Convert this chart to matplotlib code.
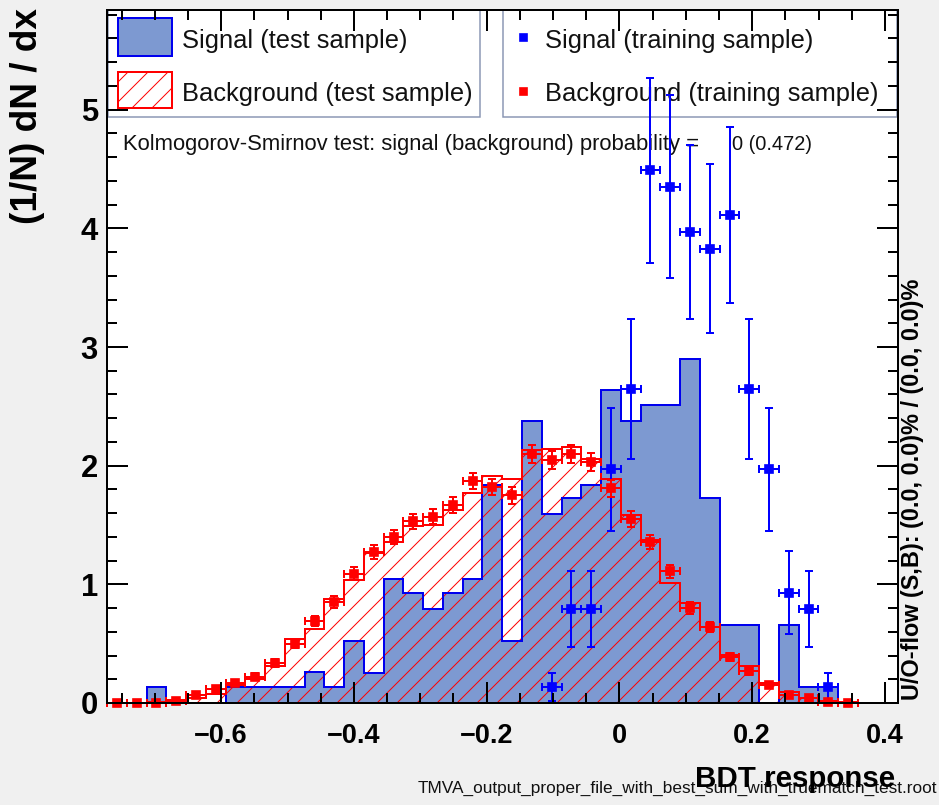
import numpy as np
import matplotlib
matplotlib.use("Agg")
import matplotlib.pyplot as plt
from matplotlib.patches import Rectangle
from matplotlib.lines import Line2D
from matplotlib.ticker import MultipleLocator

# canvas, in pixels
W, H, DPI = 939, 805, 120

# BDT response histograms: 40 bins
X_MIN, X_MAX, N_BINS = -0.772, 0.419, 40

sig_test = [0.0, 0.0, 0.135, 0.0, 0.0, 0.0, 0.135, 0.135, 0.135, 0.135,
            0.26, 0.135, 0.525, 0.25, 1.045, 0.93, 0.79, 0.93, 1.045, 1.84,
            0.52, 2.38, 1.59, 1.73, 1.84, 2.64, 2.38, 2.51, 2.51, 2.90,
            1.73, 0.66, 0.66, 0.0, 0.66, 0.137, 0.137, 0.0, 0.0, 0.0]

bkg_test = [0.0, 0.0, 0.01, 0.025, 0.045, 0.08, 0.15, 0.20, 0.31, 0.54,
            0.62, 0.88, 1.04, 1.26, 1.36, 1.49, 1.50, 1.63, 1.77, 1.91,
            1.89, 2.13, 2.14, 2.16, 2.06, 1.89, 1.585, 1.37, 1.01, 0.84,
            0.64, 0.405, 0.31, 0.17, 0.095, 0.04, 0.02, 0.01, 0.0, 0.0]

# training samples (points with errors); background drawn for bins 0..37
bkg_train = [0.0, 0.0, 0.0, 0.02, 0.07, 0.115, 0.17, 0.22, 0.335, 0.50,
             0.69, 0.85, 1.09, 1.27, 1.40, 1.53, 1.57, 1.67, 1.87, 1.82,
             1.75, 2.10, 2.05, 2.10, 2.03, 1.81, 1.55, 1.355, 1.11, 0.80,
             0.64, 0.39, 0.27, 0.15, 0.067, 0.04, 0.011, 0.003]
bkg_train_err = [0.0, 0.0, 0.0, 0.01, 0.02, 0.02, 0.025, 0.03, 0.035, 0.04,
                 0.045, 0.05, 0.055, 0.06, 0.06, 0.065, 0.065, 0.07, 0.07, 0.07,
                 0.07, 0.075, 0.075, 0.075, 0.075, 0.07, 0.065, 0.06, 0.055, 0.05,
                 0.045, 0.035, 0.03, 0.02, 0.015, 0.01, 0.005, 0.0]

sig_train_bins = [22, 23, 24, 25, 26, 27, 28, 29, 30, 31, 32, 33, 34, 35, 36]
sig_train = [0.137, 0.79, 0.79, 1.97, 2.65, 4.49, 4.35, 3.97, 3.83, 4.11,
             2.65, 1.97, 0.93, 0.79, 0.137]
sig_train_err = [0.12, 0.32, 0.32, 0.52, 0.59, 0.78, 0.77, 0.73, 0.71, 0.74,
                 0.59, 0.52, 0.35, 0.32, 0.12]

x_ticks = [-0.6, -0.4, -0.2, 0.0, 0.2, 0.4]
x_tick_labels = ["\u22120.6", "\u22120.4", "\u22120.2", "0", "0.2", "0.4"]
y_ticks = [0, 1, 2, 3, 4, 5]
Y_MAX = 5.84

ks_text = "Kolmogorov-Smirnov test: signal (background) probability ="
ks_value = "0 (0.472)"
uo_text = "U/O-flow (S,B): (0.0, 0.0)% / (0.0, 0.0)%"
file_text = "TMVA_output_proper_file_with_best_sum_with_truematch_test.root"

SIG_FILL = "#7d99d1"
SIG_LINE = "#0000ee"
SIG_MARK = "#0000ff"
BKG = "#ff0000"
BOX = "#8a96b4"

plt.rcParams["font.family"] = ["Liberation Sans", "DejaVu Sans"]
plt.rcParams["hatch.linewidth"] = 0.6


def pt(px):
    return px * 72.0 / DPI


def fxy(x, y):
    """pixel (from top-left) -> figure fraction"""
    return x / W, 1.0 - y / H


fig = plt.figure(figsize=(W / DPI, H / DPI), dpi=DPI, facecolor="#f0f0f0")
ax = fig.add_axes([107 / W, 1 - 703 / H, (897.5 - 107) / W, (703 - 10) / H])
ax.set_facecolor("white")

edges = np.linspace(X_MIN, X_MAX, N_BINS + 1)
centers = 0.5 * (edges[:-1] + edges[1:])
half = 0.5 * (edges[1] - edges[0])

# test samples
ax.stairs(sig_test, edges, fill=True, facecolor=SIG_FILL, edgecolor="none", zorder=1)
ax.stairs(bkg_test, edges, fill=True, facecolor="none", edgecolor=BKG,
          hatch="//", linewidth=0, zorder=2)
ax.stairs(sig_test, edges, baseline=0, color=SIG_LINE, linewidth=pt(2), zorder=3)
ax.stairs(bkg_test, edges, baseline=0, color=BKG, linewidth=pt(2), zorder=3)

# training samples
ax.errorbar(centers[sig_train_bins], sig_train, xerr=half, yerr=sig_train_err,
            fmt="s", color=SIG_MARK, ms=pt(8), elinewidth=pt(2),
            capsize=pt(4), capthick=pt(2), zorder=5, clip_on=False)
ax.errorbar(centers[:len(bkg_train)], bkg_train, xerr=half, yerr=bkg_train_err,
            fmt="s", color=BKG, ms=pt(8), elinewidth=pt(2),
            capsize=pt(4), capthick=pt(2), zorder=5, clip_on=False)

ax.set_xlim(X_MIN, X_MAX)
ax.set_ylim(0, Y_MAX)
ax.set_xticks(x_ticks)
ax.set_xticklabels(x_tick_labels, fontsize=pt(27), fontweight="bold")
ax.set_yticks(y_ticks)
ax.set_yticklabels([str(v) for v in y_ticks], fontsize=pt(31), fontweight="bold")
ax.xaxis.set_minor_locator(MultipleLocator(0.05))
ax.yaxis.set_minor_locator(MultipleLocator(0.2))
ax.tick_params(which="both", direction="in", top=True, right=True, width=pt(2))
ax.tick_params(which="major", length=pt(21))
ax.tick_params(which="minor", length=pt(10))
ax.tick_params(axis="x", which="major", pad=pt(20))
ax.tick_params(axis="y", which="major", pad=pt(9))
for sp in ax.spines.values():
    sp.set_linewidth(pt(2))
    sp.set_zorder(7)
ax.xaxis.set_zorder(7)
ax.yaxis.set_zorder(7)

# legends (drawn in figure pixels, under the training points)
tf = fig.transFigure


def box(x0, y0, x1, y1, **kw):
    (fx0, fy1), (fx1, fy0) = fxy(x0, y0), fxy(x1, y1)
    r = Rectangle((fx0, fy0), fx1 - fx0, fy1 - fy0, transform=tf, clip_on=False, **kw)
    ax.add_patch(r)
    return r


box(108, 10, 480, 117, facecolor="white", edgecolor=BOX, linewidth=pt(1.5), zorder=4)
box(503, 10, 897, 117, facecolor="white", edgecolor=BOX, linewidth=pt(1.5), zorder=4)
box(118, 18, 172, 56, facecolor=SIG_FILL, edgecolor=SIG_LINE, linewidth=pt(2), zorder=4.1)
box(118, 72, 172, 108, facecolor="white", edgecolor=BKG, hatch="//", linewidth=pt(2), zorder=4.1)

legend_txt = [("Signal (test sample)", 182, 48), ("Background (test sample)", 182, 101),
              ("Signal (training sample)", 545, 48), ("Background (training sample)", 545, 101)]
for s, x, y in legend_txt:
    ax.text(*fxy(x, y), s, transform=tf, fontsize=pt(25.5), color="#111111",
            ha="left", va="baseline", zorder=4.2, clip_on=False)
for col, y in [(SIG_MARK, 37), (BKG, 91)]:
    ax.add_line(Line2D([fxy(523, y)[0]], [fxy(523, y)[1]], transform=tf, marker="s",
                       color=col, ms=pt(7), linestyle="none", zorder=4.2, clip_on=False))

# KS test result
ax.text(*fxy(123, 150), ks_text, transform=tf, fontsize=pt(22), ha="left",
        va="baseline", zorder=4.2, color="#111111")
ax.text(*fxy(732, 150), ks_value, transform=tf, fontsize=pt(20), ha="left",
        va="baseline", zorder=4.2, color="#111111")

# axis titles and side notes
fig.text(*fxy(28, 8), "(1/N) dN / dx", rotation=90, ha="center", va="top",
         fontsize=pt(37), fontweight="bold")
fig.text(*fxy(912, 700), uo_text, rotation=90, ha="center", va="bottom",
         fontsize=pt(23.5), fontweight="bold")
fig.text(*fxy(937, 793), file_text, ha="right", va="baseline", fontsize=pt(17.2),
         color="#111111")
fig.text(*fxy(895, 787), "BDT response", ha="right", va="baseline",
         fontsize=pt(29.5), fontweight="bold")

fig.savefig("out.png", dpi=DPI, facecolor=fig.get_facecolor())
